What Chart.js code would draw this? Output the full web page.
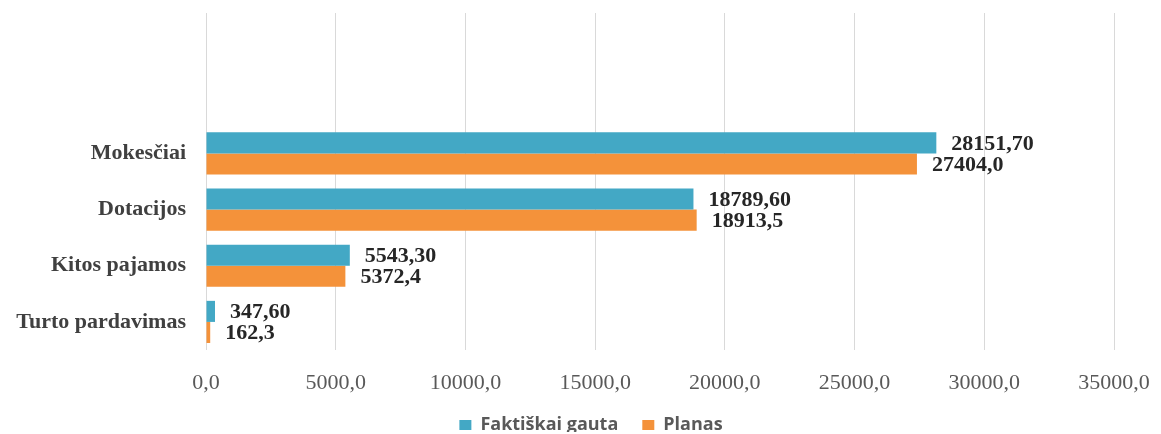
<!DOCTYPE html>
<html>
<head>
<meta charset="utf-8">
<script src="https://cdn.jsdelivr.net/npm/chart.js@4"></script>
<style>
  html, body { margin: 0; padding: 0; background: #fff; }
  #wrap { width: 1161px; height: 434px; }
</style>
</head>
<body>
<div id="wrap"><canvas id="chart"></canvas></div>
<script>
// Pajamos pagal šaltinius
const categories = ["", "", "Mokesčiai", "Dotacijos", "Kitos pajamos", "Turto pardavimas"];
const faktiskai = [null, null, 28151.70, 18789.60, 5543.30, 347.60];
const planas = [null, null, 27404.0, 18913.5, 5372.4, 162.3];
const xTicks = [0, 5000, 10000, 15000, 20000, 25000, 30000, 35000];

const serif = "'Liberation Serif', 'Times New Roman', serif";

// reikšmių užrašai prie stulpelių
const valueLabels = {
    id: "valueLabels",
    afterDatasetsDraw(chart) {
        const ctx = chart.ctx;
        ctx.save();
        ctx.font = "bold 22px " + serif;
        ctx.fillStyle = "#262626";
        ctx.textBaseline = "middle";
        ctx.textAlign = "left";
        chart.data.datasets.forEach((ds, i) => {
            const meta = chart.getDatasetMeta(i);
            meta.data.forEach((bar, j) => {
                const v = ds.data[j];
                if (v == null) return;
                const txt = v.toFixed(ds.decimals).replace(".", ",");
                ctx.fillText(txt, bar.x + 15, bar.y + 1);
            });
        });
        ctx.restore();
    }
};

// legendos aukštis ir poslinkis
const legendTweak = {
    id: "legendTweak",
    afterInit(chart) {
        const lg = chart.legend;
        const fit = lg.fit;
        lg.fit = function () { fit.call(this); this.height = 40; };
        const draw = lg.draw;
        lg.draw = function () {
            const ctx = this.ctx;
            ctx.save();
            ctx.translate(34, -2);
            draw.call(this);
            ctx.restore();
        };
    }
};

new Chart(document.getElementById("chart"), {
    type: "bar",
    data: {
        labels: categories,
        datasets: [
            {
                label: "Faktiškai gauta",
                data: faktiskai,
                decimals: 2,
                backgroundColor: "#43A8C5"
            },
            {
                label: "Planas",
                data: planas,
                decimals: 1,
                backgroundColor: "#F4923A"
            }
        ]
    },
    options: {
        indexAxis: "y",
        responsive: true,
        maintainAspectRatio: false,
        animation: false,
        categoryPercentage: 0.75,
        barPercentage: 1.0,
        layout: { padding: { top: 13, right: 47, left: 0, bottom: 0 } },
        scales: {
            x: {
                min: 0,
                max: 35000,
                afterBuildTicks: s => { s.ticks = xTicks.map(v => ({ value: v })); },
                afterFit: s => {
                    s.height = 44;
                    s.paddingLeft = 0; s.paddingRight = 0;
                },
                grid: { color: "#d9d9d9", drawTicks: false },
                border: { display: false },
                ticks: {
                    padding: 20,
                    color: "#595959",
                    font: { family: serif, size: 22 },
                    callback: v => v.toFixed(1).replace(".", ",")
                }
            },
            y: {
                afterFit: s => {
                    s.width = 206;
                    s.paddingTop = 0; s.paddingBottom = 0;
                },
                grid: { display: false, drawTicks: false },
                border: { display: false },
                ticks: {
                    padding: 20,
                    color: "#404040",
                    font: { family: serif, size: 22, weight: "bold" }
                }
            }
        },
        plugins: {
            legend: {
                position: "bottom",
                labels: {
                    boxWidth: 12,
                    boxHeight: 10,
                    padding: 24,
                    color: "#595959",
                    font: { family: "'Open Sans', sans-serif", size: 18, weight: "bold" }
                }
            },
            tooltip: { enabled: false }
        }
    },
    plugins: [valueLabels, legendTweak]
});
</script>
</body>
</html>
